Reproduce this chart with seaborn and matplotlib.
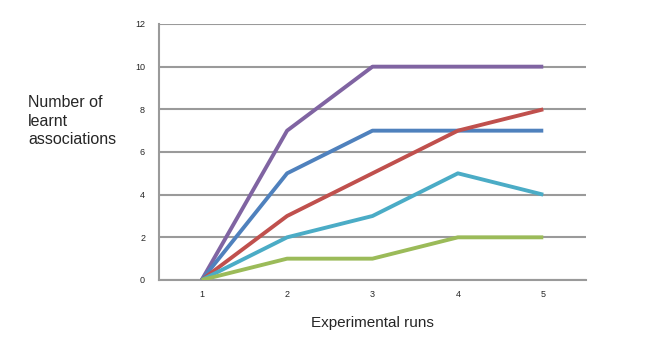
import matplotlib
matplotlib.use("Agg")
import matplotlib.pyplot as plt
import seaborn as sns
import pandas as pd
import numpy as np

runs = [1, 2, 3, 4, 5]
purple = [0, 7, 10, 10, 10]
blue = [0, 5, 7, 7, 7]
red = [0, 3, 5, 7, 8]
cyan = [0, 2, 3, 5, 4]
green = [0, 1, 1, 2, 2]
series_names = ["S1", "S2", "S3", "S4", "S5"]
series_values = [purple, blue, red, cyan, green]
colors = ["#8064A2", "#4F81BD", "#C0504D", "#4BACC6", "#9BBB59"]
yticks = [0, 2, 4, 6, 8, 10, 12]

rows = []
for name, vals in zip(series_names, series_values):
    for r, v in zip(runs, vals):
        rows.append({"run": r, "value": v, "series": name})
df = pd.DataFrame(rows)

sns.set_style("white")
plt.rcParams['font.family'] = ['Liberation Sans', 'DejaVu Sans']

fig = plt.figure(figsize=(6.5, 3.56), dpi=100)
ax = fig.add_axes([0.2446, 0.2135, 0.9015 - 0.2446, 0.9326 - 0.2135])

for y in yticks:
    ax.axhline(y, color="#9a9a9a", lw=1.5, zorder=1)

sns.lineplot(data=df, x="run", y="value", hue="series", palette=colors,
             hue_order=series_names, lw=2.8, legend=False, ax=ax, zorder=3,
             solid_capstyle="butt")

ax.set_xlim(0.5, 5.5)
ax.set_ylim(0, 12)
ax.set_xticks(runs)
ax.set_xticklabels([str(r) for r in runs])
ax.set_xticks(np.arange(0.5, 6.0, 1.0), minor=True)
ax.set_yticks(yticks)
ax.set_yticklabels([str(v) for v in yticks])
ax.tick_params(axis="x", which="major", length=0, labelsize=6.5, pad=7)
ax.tick_params(axis="x", which="minor", length=3, width=1.2, color="#9a9a9a", direction="out")
ax.tick_params(axis="y", length=2, width=1.2, color="#9a9a9a", labelsize=6.5, pad=8)
for s in ["top", "right"]:
    ax.spines[s].set_visible(False)
for s in ["left", "bottom"]:
    ax.spines[s].set_color("#9a9a9a")
    ax.spines[s].set_linewidth(1.5)
ax.set_xlabel("")
ax.set_ylabel("")

fig.text(28 / 650, 1 - 121 / 356, "Number of\nlearnt\nassociations", ha="left", va="center",
         fontsize=11.5, linespacing=1.3)
fig.text(372 / 650, 1 - 323 / 356, "Experimental runs", ha="center", va="center", fontsize=11)

fig.savefig("out.png", dpi=100)
